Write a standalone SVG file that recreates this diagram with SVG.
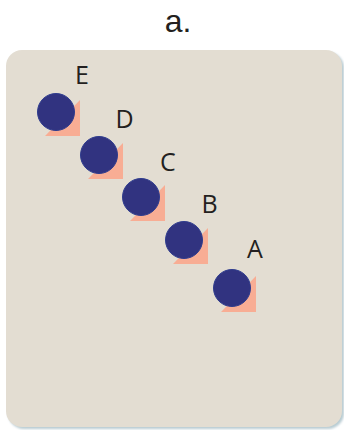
<svg xmlns="http://www.w3.org/2000/svg" width="344" height="430" viewBox="0 0 344 430">
  <defs>
    <filter id="sh" x="-5%" y="-5%" width="110%" height="110%">
      <feGaussianBlur stdDeviation="1.2"/>
    </filter>
    <style>
      .lbl { font-family: "Open Sans", "Liberation Sans", sans-serif; font-size: 25px; fill: #231f20; }
      .ball { fill: #313380; stroke: #2f3c8e; stroke-width: 1; }
      .tri { fill: #f8ad94; }
    </style>
  </defs>
  <rect width="344" height="430" fill="#ffffff"/>
  <text x="178" y="32" text-anchor="middle" font-family="'Liberation Sans', 'Open Sans', sans-serif" font-size="32" fill="#231f20">a.</text>
  <g id="panel">
    <rect x="8" y="52" width="336" height="377" rx="16" fill="#b9ccd3" filter="url(#sh)"/>
    <rect x="6" y="50" width="336" height="377" rx="16" fill="#e3ddd2"/>
  </g>
  <g id="connectors"></g>
  <g id="nodeE">
    <polygon class="tri" points="45,136 80,136 80,100"/>
    <circle class="ball" cx="56" cy="112" r="18.5"/>
    <text class="lbl" x="75" y="84">E</text>
  </g>
  <g id="nodeD">
    <polygon class="tri" points="88,179 123,179 123,143"/>
    <circle class="ball" cx="99" cy="155" r="18.5"/>
    <text class="lbl" x="115.5" y="128">D</text>
  </g>
  <g id="nodeC">
    <polygon class="tri" points="130,221 165,221 165,185"/>
    <circle class="ball" cx="141" cy="197" r="18.5"/>
    <text class="lbl" x="160" y="171">C</text>
  </g>
  <g id="nodeB">
    <polygon class="tri" points="173,264 208,264 208,228"/>
    <circle class="ball" cx="184" cy="240" r="18.5"/>
    <text class="lbl" x="201.5" y="213">B</text>
  </g>
  <g id="nodeA">
    <polygon class="tri" points="221,312 256,312 256,276"/>
    <circle class="ball" cx="232" cy="288" r="18.5"/>
    <text class="lbl" x="247" y="258">A</text>
  </g>
</svg>
